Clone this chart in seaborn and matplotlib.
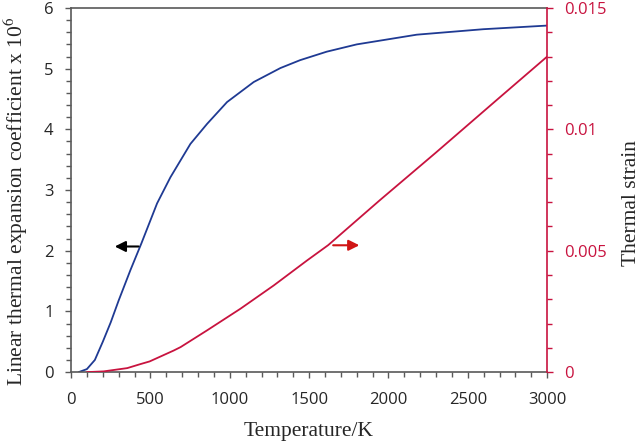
import seaborn as sns
import pandas as pd
import matplotlib.pyplot as plt
from matplotlib.ticker import MultipleLocator, FuncFormatter

# values
temp_alpha = [48, 100, 150, 200, 250, 300, 374, 443, 542, 626, 752, 857, 983,
              1151, 1319, 1443, 1611, 1800, 2178, 2597, 3000]
alpha = [0.0, 0.05, 0.2, 0.5, 0.82, 1.18, 1.68, 2.12, 2.78, 3.21, 3.76, 4.09, 4.45,
         4.78, 5.01, 5.14, 5.28, 5.40, 5.56, 5.65, 5.71]

temp_strain = [100, 205, 354, 437, 495, 647, 690, 857, 1067, 1277, 1487, 1620,
               1947, 2300, 2682, 3000]
strain = [0.0, 0.00003, 0.000165, 0.00033, 0.00044, 0.00089, 0.00103, 0.00172,
          0.00261, 0.00357, 0.0046, 0.00523, 0.00709, 0.00905, 0.01121, 0.0130]

blue = '#1f3a93'
crimson = '#c8133f'
gray = '#595959'

sns.set_style("white")
plt.rcParams['mathtext.fontset'] = 'stix'

alpha_data = pd.DataFrame({"T": temp_alpha, "alpha": alpha})
strain_data = pd.DataFrame({"T": temp_strain, "strain": strain})

fig = plt.figure(figsize=(6.4, 4.43), dpi=100)
ax = fig.add_axes([0.111, 0.160, 0.744, 0.822])
ax2 = ax.twinx()

sns.lineplot(x="T", y="alpha", data=alpha_data, color=blue, linewidth=1.3, ax=ax)
sns.lineplot(x="T", y="strain", data=strain_data, color=crimson, linewidth=1.3, ax=ax2)

ax.set_xlim(0, 3000)
ax.set_ylim(0, 6)
ax2.set_ylim(0, 0.015)

ax.xaxis.set_major_locator(MultipleLocator(500))
ax.xaxis.set_minor_locator(MultipleLocator(100))
ax.yaxis.set_major_locator(MultipleLocator(1))
ax.yaxis.set_minor_locator(MultipleLocator(0.2))
ax2.yaxis.set_major_locator(MultipleLocator(0.005))
ax2.yaxis.set_minor_locator(MultipleLocator(0.001))
ax2.yaxis.set_major_formatter(FuncFormatter(lambda v, p: '%g' % round(v, 4)))

for lab in ax.get_xticklabels() + ax.get_yticklabels() + ax2.get_yticklabels():
    lab.set_fontfamily('Open Sans')
    lab.set_fontsize(12)

ax.tick_params(axis='x', which='major', direction='out', length=4.5, width=1.0,
               color=gray, pad=10, bottom=True)
ax.tick_params(axis='y', which='major', direction='out', length=4.5, width=1.0,
               color=gray, pad=8, left=True)
ax.tick_params(axis='both', which='minor', direction='out', length=3.5, width=1.0,
               color=gray, left=True, bottom=True)
ax2.tick_params(axis='y', which='major', direction='out', length=4.5, width=1.0,
                color=crimson, labelcolor=crimson, pad=8, right=True)
ax2.tick_params(axis='y', which='minor', direction='out', length=3.5, width=1.0,
                color=crimson, right=True)

for name in ['left', 'bottom', 'top']:
    ax.spines[name].set_color(gray)
    ax.spines[name].set_linewidth(1.2)
ax.spines['right'].set_visible(False)
for name in ['left', 'bottom', 'top']:
    ax2.spines[name].set_visible(False)
ax2.spines['right'].set_color(crimson)
ax2.spines['right'].set_linewidth(1.2)

label_font = {'family': 'Liberation Serif', 'size': 15.5}
ax.set_xlabel("Temperature/K", fontdict=label_font, labelpad=10)
ax.set_ylabel("Linear thermal expansion coefficient x 10$^{6}$", fontdict=label_font)
ax.yaxis.set_label_coords(-0.087, 0.47)
ax2.set_ylabel("Thermal strain", fontdict=label_font)
ax2.yaxis.set_label_coords(1.157, 0.465)

ax.annotate("", xy=(258, 2.07), xytext=(443, 2.07),
            arrowprops=dict(arrowstyle='-|>', color='black', lw=1.5, mutation_scale=16))
ax.annotate("", xy=(1834, 2.09), xytext=(1634, 2.09),
            arrowprops=dict(arrowstyle='-|>', color='#d01515', lw=1.5, mutation_scale=16))

plt.savefig("out.png", dpi=100)
plt.close()
